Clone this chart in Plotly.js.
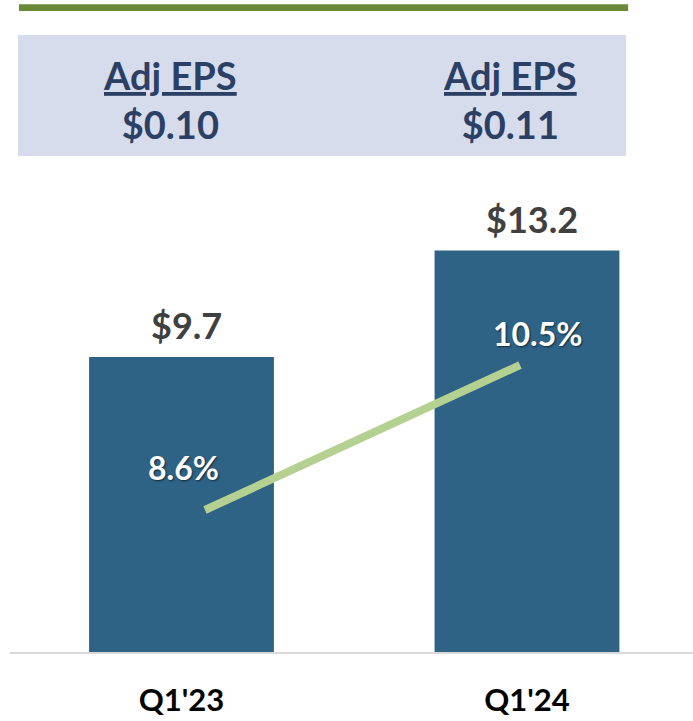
<!DOCTYPE html>
<html>
<head>
<meta charset="utf-8">
<script src="https://cdn.plot.ly/plotly-3.0.1.min.js"></script>
<style>html,body{margin:0;padding:0;background:#fff;}#chart{width:693px;height:721px;}</style>
</head>
<body>
<div id="chart"></div>
<script>
const categories = ["Q1'23", "Q1'24"];
const revenue = [9.7, 13.2];
const revenueLabels = ["$9.7", "$13.2"];
const margin = [8.6, 10.5];
const marginLabels = ["8.6%", "10.5%"];
const epsTitles = ["Adj EPS", "Adj EPS"];
const epsValues = ["$0.10", "$0.11"];

const FONT = "Lato, 'Open Sans', sans-serif";

const traces = [
  {
    type: 'bar', x: [0, 1], y: revenue, width: 0.535,
    marker: {color: '#2e6386'}, hoverinfo: 'skip', xaxis: 'x', yaxis: 'y'
  },
  {
    type: 'scatter', mode: 'lines', x: [0, 1], y: margin,
    line: {color: '#b5d191', width: 8}, hoverinfo: 'skip', xaxis: 'x2', yaxis: 'y2'
  }
];

const annotations = [];
categories.forEach((c, i) => {
  annotations.push({
    xref: 'x', yref: 'y', x: i, y: revenue[i], text: revenueLabels[i],
    showarrow: false, yanchor: 'bottom', xshift: 5, yshift: 8,
    font: {family: FONT, size: 36, color: '#404040', weight: 'bold'}
  });
  annotations.push({
    xref: 'x2', yref: 'y2', x: i, y: margin[i], text: marginLabels[i],
    showarrow: false, yanchor: 'middle', xshift: i === 0 ? -22 : 18, yshift: i === 0 ? 43 : 32,
    font: {family: FONT, size: 32, color: '#ffffff', weight: 'bold', shadow: '1px 1px 2px rgba(0,0,0,0.6)'}
  });
  annotations.push({
    xref: 'x', yref: 'paper', x: i, y: 1.147, text: '<u>' + epsTitles[i] + '</u><br>' + epsValues[i],
    showarrow: false, yanchor: 'middle', xshift: i === 0 ? -12 : -17,
    font: {family: FONT, size: 38, color: '#2c3f64', weight: 'bold'}
  });
});

const layout = {
  width: 693, height: 721,
  margin: {l: 10, r: 0, t: 170, b: 69},
  paper_bgcolor: '#ffffff', plot_bgcolor: 'rgba(0,0,0,0)',
  showlegend: false,
  xaxis: {
    range: [-0.4964, 1.4805], tickvals: [0, 1], ticktext: categories,
    showline: true, linecolor: '#d9d9d9', linewidth: 2, showgrid: false, zeroline: false,
    ticks: '', ticklabelstandoff: 20,
    tickfont: {family: FONT, size: 31, color: '#000000', weight: 'bold'}
  },
  yaxis: {range: [0, 15.85], visible: false, showgrid: false, zeroline: false},
  xaxis2: {range: [-0.619, 1.549], overlaying: 'x', visible: false},
  yaxis2: {range: [6.739, 13.056], overlaying: 'y', visible: false},
  shapes: [
    {type: 'rect', xref: 'paper', yref: 'paper', x0: 0.0117, x1: 0.902, y0: 1.029, y1: 1.280,
     fillcolor: '#d6dcec', line: {width: 0}, layer: 'below'},
    {type: 'rect', xref: 'paper', yref: 'paper', x0: 0.0132, x1: 0.905, y0: 1.330, y1: 1.344,
     fillcolor: '#6a8a3a', line: {width: 0}}
  ],
  annotations: annotations
};

Plotly.newPlot('chart', traces, layout, {staticPlot: true, displayModeBar: false});
</script>
</body>
</html>
